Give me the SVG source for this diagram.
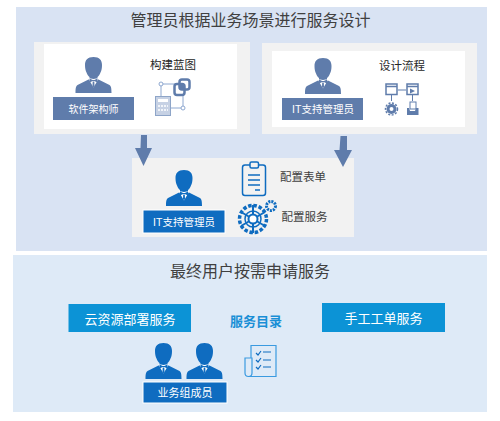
<svg xmlns="http://www.w3.org/2000/svg" width="500" height="421" viewBox="0 0 500 421">
<style>
text{font-family:"Liberation Sans","Noto Sans CJK SC",sans-serif;text-anchor:middle}
.t{font-size:16px;fill:#404040}.s{font-size:11.5px;fill:#262626}.g{font-size:11.5px;fill:#404040}.w{font-size:10px;fill:#fff}.w2{font-size:10.5px;fill:#fff}
.b{font-size:13px;fill:#fff}
</style>
<defs>
<g id="p"><path d="M0-22c-6 0-8.500 3-8.500 8 0 3 .5 5.500 1.500 7.500.8 2 1.800 3.500 3 4.500v2L-16 6c-1.500 1-2 3-2 8h36c0-5-.5-7-2-8L4 0v-2c1.200-1 2.200-2.500 3-4.500 1-2 1.500-4.500 1.500-7.500 0-5-2.500-8-8.500-8z"/><path fill="#fff" d="M-5.500-1L0 0l5.500-1L0 8.500z"/><path d="M-4-.5L-.8 1h1.600L4-.5v4L.8 2h-1.600L-4 3.500zM-.8 2.500h1.600L1 7 0 8.500-1 7z"/></g>
<g id="cog"><circle r="13.500" fill="none" stroke-width="3.500" stroke-dasharray="3.500 1.800"/><circle r="8" fill="none" stroke-width="1.500"/><path fill="none" stroke-width="2" d="M0-14V14M-12-7L12 7M-12 7L12-7"/><circle r="4.500" fill="#fff" stroke-width="2"/></g>
</defs>
<rect width="500" height="421" fill="#fff"/>
<rect id="top-panel" x="16" y="7" width="471" height="244" fill="#d9e3f3"/>
<rect id="bottom-panel" x="13" y="255" width="474" height="157" fill="#deeaf7"/>
<text class="t" x="250.500" y="26">管理员根据业务场景进行服务设计</text>
<text class="t" x="250" y="277">最终用户按需申请服务</text>
<g id="architect">
<rect x="34" y="42" width="216" height="92" fill="#f2f2f2"/><rect x="44" y="44" width="193" height="85" fill="#fff"/>
<use href="#p" x="93.500" y="79" fill="#5f7cab"/>
<rect x="53" y="97" width="81" height="23" fill="#5f7cab"/><text class="w" x="93.500" y="112.500">软件架构师</text>
<text class="s" x="173" y="69">构建蓝图</text>
<g fill="none" stroke="#8ea8d0"><path d="M161 84h14M161 84v12M183 108h-12M183 108V94"/><circle cx="161" cy="84" r="2" fill="#fff"/><circle cx="183" cy="108" r="2" fill="#fff"/></g>
<rect x="155.500" y="96.500" width="15" height="19" fill="#c6d1e4" stroke="#8ea5c8"/><rect x="158" y="99" width="10" height="3" fill="#fff"/><path d="M158 106h10M158 110h10" stroke="#fff" stroke-dasharray="2 1" stroke-width="1.500"/>
<rect x="174.500" y="84" width="10" height="11" rx="2.500" fill="#fff" stroke="#5f7cab" stroke-width="2.500"/><rect x="179.500" y="79.500" width="10" height="10" rx="2.500" fill="none" stroke="#5f7cab" stroke-width="2.500"/><rect x="180" y="85" width="4" height="4" fill="#5f7cab"/>
</g>
<g id="it-admin-1">
<rect x="262" y="43" width="215" height="91" fill="#f2f2f2"/><rect x="272" y="51" width="193" height="76" fill="#fff"/>
<use href="#p" x="323" y="80" fill="#5f7cab"/>
<rect x="282" y="98" width="81" height="22" fill="#5f7cab"/><text class="w2" x="323" y="113">IT支持管理员</text>
<text class="s" x="402" y="70">设计流程</text>
<g fill="none" stroke="#5f7cab"><rect x="386" y="84" width="11" height="10.500" stroke-width="1.500"/><rect x="407" y="84" width="11" height="10.500" stroke-width="1.500"/><path d="M398 90h8M391.500 95v6M412.500 95v6"/><path d="M386 86.500h11M407 86.500h11" stroke-width="1.500"/></g>
<path fill="#5f7cab" d="M410 88.500l5 2.500-5 2.500zM407 108h2l1 3h5l1-3h2.500v7H407z"/><rect x="410" y="102" width="6" height="7" fill="none" stroke="#5f7cab"/>
<circle cx="391.500" cy="109" r="3.500" fill="none" stroke="#5f7cab" stroke-width="3"/><circle cx="391.500" cy="109" r="6" fill="none" stroke="#5f7cab" stroke-width="1.500" stroke-dasharray="2 1.500"/>
</g>
<g id="it-admin-2">
<rect x="132" y="158" width="222" height="79" fill="#f2f2f2"/>
<use href="#p" x="184" y="192" fill="#0f6cc0"/>
<rect x="143" y="210" width="82" height="23" fill="#0f6cc0" stroke="#fff"/><text class="w2" x="184" y="225.500">IT支持管理员</text>
<g fill="none" stroke="#0f6cc0" stroke-width="1.500"><rect x="242.500" y="165" width="23" height="30.500" rx="2.500"/><rect x="250" y="162" width="8.500" height="6" rx="1.500" fill="#f2f2f2"/><path d="M248 175h12M248 180h12M248 185h12M255 190h5"/></g>
<text class="g" x="303" y="181">配置表单</text>
<use href="#cog" x="253" y="219" stroke="#0f6cc0"/>
<circle cx="271" cy="206" r="4.500" fill="none" stroke="#0f6cc0" stroke-width="3" stroke-dasharray="2 1"/>
<text class="g" x="304.500" y="221">配置服务</text>
</g>
<g id="connectors">
<path fill="#5f7cab" d="M141 135h6v13h5l-8.500 18-8.500-18h5.500zM340.500 136h6.500v14h5l-9 17-9-17h5.500z"/>
</g>
<g id="cloud-service"><rect x="68.500" y="304" width="122.500" height="28" fill="#0c93d6"/><text class="b" x="130" y="323.500">云资源部署服务</text></g>
<g id="ticket-service"><rect x="322" y="303" width="123" height="29" fill="#0c93d6"/><text class="b" x="383.500" y="323">手工工单服务</text></g>
<text x="256" y="325.500" font-size="13" font-weight="bold" fill="#1a8fd6">服务目录</text>
<g id="members">
<use href="#p" x="163.500" y="365" fill="#0f6cc0"/><use href="#p" x="204.500" y="365" fill="#0f6cc0"/>
<rect x="143" y="382" width="84" height="21" fill="#0f6cc0" stroke="#fff"/><text x="185" y="396.500" font-size="11" fill="#fff">业务组成员</text>
</g>
<g id="catalog-icon" fill="none" stroke="#3a9ae0" stroke-width="1.200"><path d="M251 358v-12.500h25v31h-27M245 362v11a3.500 3.500 0 0 0 7 0v-15h-7v4"/><path d="M256 353l2 2 3-4M256 360l2 2 3-4M256 367l2 2 3-4M263 352h8M263 360h8M263 367h8" stroke="#0f6cc0"/></g>
</svg>
